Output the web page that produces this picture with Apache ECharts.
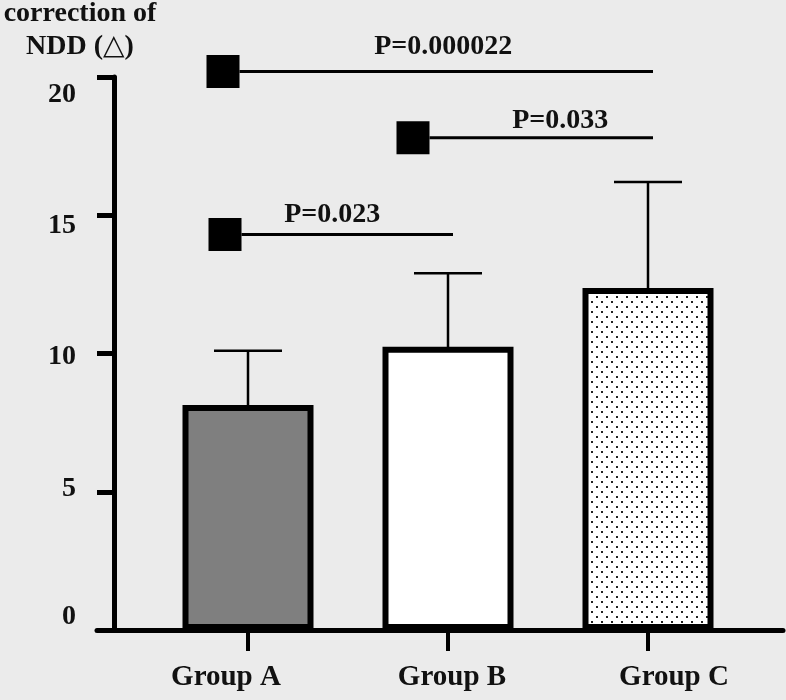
<!DOCTYPE html>
<html>
<head>
<meta charset="utf-8">
<script src="https://cdn.jsdelivr.net/npm/echarts@6/dist/echarts.min.js"></script>
<style>
html,body{margin:0;padding:0;background:#ebebeb;}
#chart{width:786px;height:700px;}
</style>
</head>
<body>
<div id="chart"></div>
<script>
// ---- data ----
const categories = ['Group A', 'Group B', 'Group C'];
const means = [8.14, 10.24, 12.37];
const sds = [1.96, 2.66, 3.83];
const yTicks = [0, 5, 10, 15, 20];
const sigFrom = [0, 1, 0];
const sigTo = [1, 2, 2];
const sigY = [14.3, 17.8, 20.2];
const sigText = ['P=0.023', 'P=0.033', 'P=0.000022'];
const yTitle = ['correction of', 'NDD (\u25B3)'];

// ---- styles ----
const FONT = "'Liberation Serif', 'DejaVu Serif', serif";
const INK = '#111';

function dotPattern() {
  const c = document.createElement('canvas');
  c.width = 10; c.height = 10;
  const ctx = c.getContext('2d');
  ctx.fillStyle = '#fff';
  ctx.fillRect(0, 0, 10, 10);
  ctx.fillStyle = '#222';
  ctx.fillRect(1, 1, 2, 2);
  ctx.fillRect(6, 6, 2, 2);
  return c;
}
const fills = ['#7f7f7f', '#ffffff', { image: dotPattern(), repeat: 'repeat' }];

// per-label offsets (style only)
const yLabelShift = { 0: -13, 5: -3, 10: 3, 15: 11, 20: 18 };
const xLabelShift = [-22, 4, 26];
const sigSquareDx = [-23, -35, -25];
const sigTextDx = [-15, 19, -3];
const sigTextDy = [-20, -17, -25];

const yRich = {};
yTicks.forEach(v => {
  const d = yLabelShift[v] || 0;
  yRich['y' + v] = {
    fontSize: 28, fontWeight: 'bold', fontFamily: FONT, color: INK,
    padding: d >= 0 ? [2 * d, 0, 0, 0] : [0, 0, -2 * d, 0]
  };
});
const xRich = {};
categories.forEach((c, i) => {
  const d = xLabelShift[i];
  xRich['x' + i] = {
    fontSize: 29, fontWeight: 'bold', fontFamily: FONT, color: INK,
    padding: d >= 0 ? [0, 0, 0, 2 * d] : [0, -2 * d, 0, 0]
  };
});

const chart = echarts.init(document.getElementById('chart'), null, { renderer: 'canvas' });

const option = {
  backgroundColor: '#ebebeb',
  animation: false,
  grid: [
    { left: 148, right: 38, top: 77, bottom: 70 },
    { left: 97, right: 3, top: 77, bottom: 70 }
  ],
  xAxis: [
    {
      type: 'category', gridIndex: 0, data: categories,
      axisLine: { show: true, lineStyle: { color: '#000', width: 5 } },
      axisTick: { show: true, alignWithLabel: true, length: 21, lineStyle: { color: '#000', width: 4 } },
      axisLabel: {
        margin: 33,
        formatter: (v) => '{x' + categories.indexOf(v) + '|' + v + '}',
        rich: xRich
      },
      splitLine: { show: false }
    },
    {
      type: 'value', gridIndex: 1, min: 0, max: 1,
      axisLine: { show: true, onZero: false, lineStyle: { color: '#000', width: 5 } },
      axisTick: { show: false }, axisLabel: { show: false }, splitLine: { show: false }
    }
  ],
  yAxis: [
    {
      type: 'value', gridIndex: 0, min: 0, max: 20, interval: 5, offset: 34,
      axisLine: { show: true, lineStyle: { color: '#000', width: 5 } },
      axisTick: { show: true, length: 17, lineStyle: { color: '#000', width: 5 } },
      axisLabel: {
        margin: 38,
        formatter: (v) => '{y' + v + '|' + v + '}',
        rich: yRich
      },
      splitLine: { show: false }
    },
    { type: 'value', gridIndex: 1, min: 0, max: 1, show: false }
  ],
  graphic: [
    {
      type: 'text', x: 80, y: 14,
      style: { text: yTitle[0], font: "bold 28px " + FONT, fill: INK, align: 'center', verticalAlign: 'middle' }
    },
    {
      type: 'text', x: 80, y: 47,
      style: { text: yTitle[1], font: "bold 28px " + FONT, fill: INK, align: 'center', verticalAlign: 'middle' }
    }
  ],
  series: [
    {
      type: 'bar', xAxisIndex: 0, yAxisIndex: 0,
      barWidth: 131,
      data: means.map((m, i) => ({
        value: m,
        itemStyle: { color: fills[i], borderColor: '#000', borderWidth: 6 }
      })),
      z: 2
    },
    {
      type: 'custom', xAxisIndex: 0, yAxisIndex: 0,
      data: means.map((m, i) => [i, m, sds[i]]),
      encode: { x: 0, y: 1 },
      z: 3,
      renderItem: function (params, api) {
        const i = api.value(0), m = api.value(1), s = api.value(2);
        const p0 = api.coord([i, m]);
        const p1 = api.coord([i, m + s]);
        const st = { stroke: '#000', lineWidth: 2.5 };
        return {
          type: 'group',
          children: [
            { type: 'line', shape: { x1: p0[0], y1: p0[1] + 1, x2: p1[0], y2: p1[1] }, style: st },
            { type: 'line', shape: { x1: p1[0] - 34, y1: p1[1], x2: p1[0] + 34, y2: p1[1] }, style: st }
          ]
        };
      }
    },
    {
      type: 'custom', xAxisIndex: 0, yAxisIndex: 0,
      data: sigY.map((y, k) => [sigFrom[k], sigTo[k], y, k]),
      encode: { x: 0, y: 2 },
      clip: false,
      z: 4,
      renderItem: function (params, api) {
        const a = api.value(0), b = api.value(1), y = api.value(2), k = api.value(3);
        const pa = api.coord([a, y]);
        const pb = api.coord([b, y]);
        const sq = 33;
        const cx = pa[0] + sigSquareDx[k];
        const x1 = cx + sq / 2;
        const x2 = pb[0] + 5;
        return {
          type: 'group',
          children: [
            { type: 'rect', shape: { x: cx - sq / 2, y: pa[1] - sq / 2, width: sq, height: sq }, style: { fill: '#000' } },
            { type: 'line', shape: { x1: x1, y1: pa[1], x2: x2, y2: pa[1] }, style: { stroke: '#000', lineWidth: 3 } },
            {
              type: 'text', x: (x1 + x2) / 2 + sigTextDx[k], y: pa[1] + sigTextDy[k],
              style: { text: sigText[k], font: 'bold 28px ' + FONT, fill: INK, align: 'center', verticalAlign: 'middle' }
            }
          ]
        };
      }
    }
  ]
};
chart.setOption(option);
</script>
</body>
</html>
